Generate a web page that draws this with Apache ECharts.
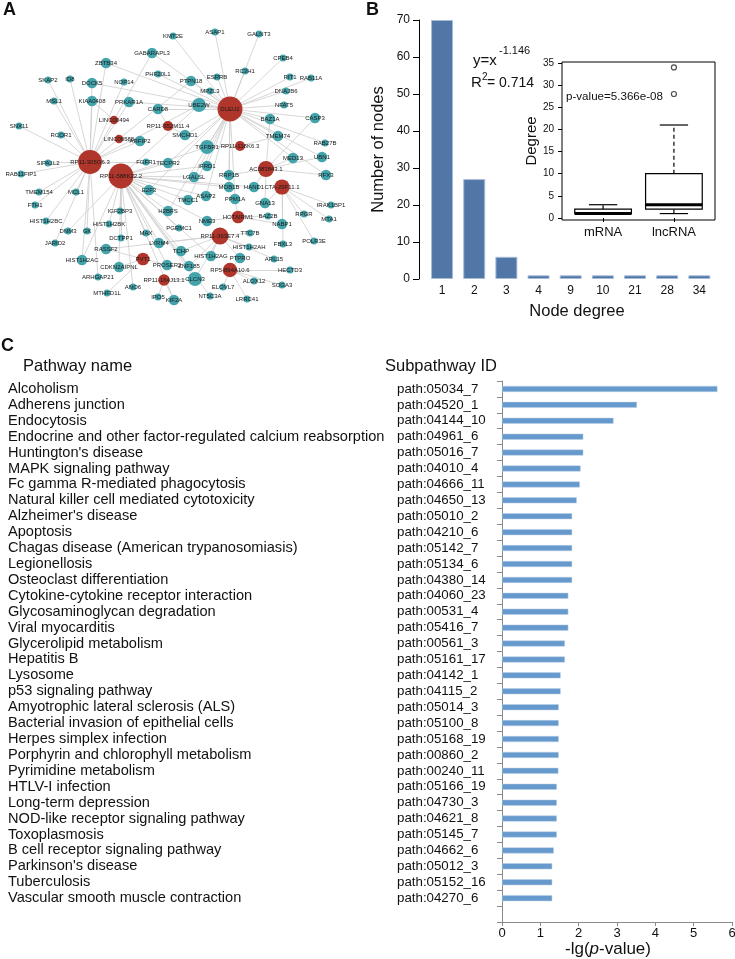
<!DOCTYPE html>
<html><head><meta charset="utf-8">
<script src="https://cdn.jsdelivr.net/npm/echarts@6/dist/echarts.min.js"></script>
<style>html,body{margin:0;padding:0;background:#fff}#c{width:735px;height:959px}</style>
</head><body><div id="c"></div>
<script>
// ===== Panel A: lncRNA–mRNA network (layout coordinates) =====
const lncRNAs = [
  ['DLEU2',230,109],['RP11-305O6.3',90,162],['RP11-588K22.2',121,176],['AC083843.1',266,169],
  ['RP11-363E7.4',220,236],['CTA-29F11.1',282,187],['HOTAIRM1',238,217],['RP5-894A10.6',230,270],
  ['PVT1',143,259],['RP11-164J13.1',164,280],['RP11-118K6.3',240,146],['RP11-552M11.4',168,126],
  ['LINC00494',114,120],['LINC00588',119,139]
];
const mRNAs = [
  ['KMT2E',173,36],['ASAP1',215,32],['GALNT3',259,34],['GABARAPL3',152,53],['CPEB4',283,58],
  ['ZBTB34',106,63],['RC3H1',245,71],['RIT1',290,77],['RAB11A',311,78],['SKAP2',48,80],
  ['ID8',70,79],['DOCK5',92,83],['NOP14',124,82],['PHF20L1',158,74],['PTPN18',191,81],
  ['ESRRB',217,77],['MPZL3',210,91],['DNAJB6',286,91],['MSL1',54,101],['KIAA0408',92,101],
  ['PRKAR1A',129,102],['UBE2W',199,105],['NFAT5',284,105],['CARD8',158,109],['CASP3',315,118],
  ['BAZ1A',270,119],['SNX11',19,126],['RCOR1',61,135],['TMEM74',278,136],['RAB27B',325,143],
  ['ARFIP2',140,141],['SMCHD1',185,135],['TGFBR1',207,147],['MED13',293,158],['UBN1',322,157],
  ['SIPA1L2',48,163],['FGFR1',146,162],['TECPR2',168,163],['IFRD1',207,166],['RFX3',326,175],
  ['RAB11FIP1',21,174],['LGALSL',194,177],['RRP1B',229,175],['TMEM154',39,192],['MCL1',76,192],
  ['E2F3',149,190],['MOB1B',229,187],['HAND1',254,187],['TMCC1',188,200],['ASAP2',206,196],
  ['PPM1A',235,199],['GNA13',265,203],['IRAK1BP1',331,205],['FTH1',35,205],['IGF2BP3',120,211],
  ['H2BFS',168,211],['BAZ2B',268,216],['RPGR',304,214],['MTA1',329,219],['HIST1H2BC',46,221],
  ['HIST1H2BK',109,224],['NME3',207,221],['NABP1',282,224],['DNM3',68,231],['GK',87,231],
  ['MAX',146,233],['PGRMC1',179,228],['TTC7B',250,233],['JARID2',55,243],['DCTPP1',121,238],
  ['LYRM4',159,243],['FBXL3',283,244],['POLR3E',314,241],['HIST1H2AH',249,247],['RASSF2',106,249],
  ['TCHP',181,251],['HIST1H2AC',82,260],['HIST1H2AG',211,256],['PTPRO',240,258],['ARL15',274,259],
  ['PROSER2',167,265],['ZNF185',189,266],['CDKN2AIPNL',119,267],['HECTD3',290,270],['ARHGAP21',98,277],
  ['CLCN3',195,279],['ALOX12',254,281],['SOGA3',282,285],['ANO6',133,287],['ELOVL7',223,287],
  ['MTHFD1L',107,293],['IPO5',158,297],['KIF2A',174,300],['NT5C3A',210,296],['LRRC41',247,299]
];
const interactions = {
  'DLEU2': ['KMT2E','ASAP1','GALNT3','CPEB4','RC3H1','RIT1','RAB11A','ESRRB','MPZL3','PTPN18','DNAJB6','NFAT5','UBE2W','CASP3','BAZ1A','TMEM74','RAB27B','UBN1','MED13','RFX3','GABARAPL3','DOCK5','PHF20L1','PRKAR1A','CARD8','SMCHD1','TGFBR1','IFRD1','LGALSL','RRP1B','MOB1B','TMCC1','ASAP2','PPM1A','ZBTB34','TECPR2','E2F3','H2BFS'],
  'RP11-305O6.3': ['SKAP2','ID8','DOCK5','NOP14','MSL1','KIAA0408','ZBTB34','GABARAPL3','SNX11','RCOR1','SIPA1L2','RAB11FIP1','TMEM154','MCL1','FTH1','HIST1H2BC','GK','JARID2','HIST1H2AC','UBE2W','FGFR1','ARFIP2','ARHGAP21','PTPN18','PRKAR1A'],
  'RP11-588K22.2': ['E2F3','IGF2BP3','H2BFS','TMCC1','ASAP2','PGRMC1','MAX','DCTPP1','LYRM4','TCHP','PROSER2','ZNF185','CDKN2AIPNL','ANO6','KIF2A','CLCN3','DNM3','HIST1H2BK','TECPR2','IFRD1','LGALSL','TGFBR1','MOB1B','NME3','HIST1H2AG','NT5C3A','HAND1','UBE2W','HIST1H2AC'],
  'RP11-363E7.4': ['TTC7B','HIST1H2AH','PTPRO','ARL15','RASSF2','TCHP','HIST1H2AG','ZNF185','CLCN3','LYRM4'],
  'AC083843.1': ['CASP3','MED13','RFX3','UBN1','BAZ1A','RRP1B','HAND1','GNA13'],
  'CTA-29F11.1': ['IRAK1BP1','RPGR','MTA1','POLR3E','FBXL3','GNA13','NABP1'],
  'HOTAIRM1': ['BAZ2B','NABP1','PPM1A','NME3'],
  'RP5-894A10.6': ['HECTD3','ALOX12','SOGA3','ELOVL7','LRRC41','PTPRO'],
  'PVT1': ['MTHFD1L','PROSER2','CDKN2AIPNL','RASSF2'],
  'RP11-164J13.1': ['IPO5','KIF2A','CLCN3'],
  'RP11-118K6.3': ['TMEM74','TGFBR1'],
  'RP11-552M11.4': ['SMCHD1','CARD8'],
  'LINC00494': ['KIAA0408'],
  'LINC00588': ['ARFIP2']
};

// ===== Panel B: degree distribution + inset boxplot =====
const degreeCategories = ['1','2','3','4','9','10','21','28','34'];
const nodeCounts = [70,27,6,1,1,1,1,1,1];
const boxCategories = ['mRNA','lncRNA'];
const boxStats = [[1,1,1,2,3],[1,2,3,10,21]]; // min, Q1, median, Q3, max
const boxOutliers = [[2,28],[2,34]];
const degreeTicks = [0,5,10,15,20,25,30,35];

// ===== Panel C: subpathway enrichment =====
const pathwayNames = ['Alcoholism','Adherens junction','Endocytosis','Endocrine and other factor-regulated calcium reabsorption',"Huntington's disease",'MAPK signaling pathway','Fc gamma R-mediated phagocytosis','Natural killer cell mediated cytotoxicity',"Alzheimer's disease",'Apoptosis','Chagas disease (American trypanosomiasis)','Legionellosis','Osteoclast differentiation','Cytokine-cytokine receptor interaction','Glycosaminoglycan degradation','Viral myocarditis','Glycerolipid metabolism','Hepatitis B','Lysosome','p53 signaling pathway','Amyotrophic lateral sclerosis (ALS)','Bacterial invasion of epithelial cells','Herpes simplex infection','Porphyrin and chlorophyll metabolism','Pyrimidine metabolism','HTLV-I infection','Long-term depression','NOD-like receptor signaling pathway','Toxoplasmosis','B cell receptor signaling pathway',"Parkinson's disease",'Tuberculosis','Vascular smooth muscle contraction'];
const subpathwayIds = ['path:05034_7','path:04520_1','path:04144_10','path:04961_6','path:05016_7','path:04010_4','path:04666_11','path:04650_13','path:05010_2','path:04210_6','path:05142_7','path:05134_6','path:04380_14','path:04060_23','path:00531_4','path:05416_7','path:00561_3','path:05161_17','path:04142_1','path:04115_2','path:05014_3','path:05100_8','path:05168_19','path:00860_2','path:00240_11','path:05166_19','path:04730_3','path:04621_8','path:05145_7','path:04662_6','path:05012_3','path:05152_16','path:04270_6'];
const negLogP = [5.62,3.52,2.91,2.12,2.12,2.05,2.03,1.95,1.83,1.83,1.83,1.83,1.83,1.73,1.73,1.73,1.64,1.64,1.53,1.53,1.48,1.48,1.48,1.48,1.47,1.43,1.43,1.43,1.43,1.35,1.31,1.31,1.31];

// ===== build =====
const FONT = '"Liberation Sans", Arial, Helvetica, sans-serif';
const TEAL = '#43a4ac', RED = '#b0352b';
const degree = {};
Object.keys(interactions).forEach(l => {
  degree[l] = (degree[l]||0) + interactions[l].length;
  interactions[l].forEach(m => { degree[m] = (degree[m]||0) + 1; });
});
const graphNodes = [];
mRNAs.forEach(([n,x,y]) => graphNodes.push({name:n, value:[x,y],
  symbolSize: Math.min(15, 3.5 + 3.5*(degree[n]||1)), itemStyle:{color:TEAL}}));
lncRNAs.forEach(([n,x,y]) => graphNodes.push({name:n, value:[x,y],
  symbolSize: Math.min(25, 3 + 5.4*Math.pow(degree[n]||1,0.42)), itemStyle:{color:RED}}));
const graphLinks = [];
Object.keys(interactions).forEach(l => interactions[l].forEach(m => graphLinks.push({source:l, target:m})));

const catC = subpathwayIds.map((_,i)=>String(i)).concat(['pad']);

const chart = echarts.init(document.getElementById('c'), null, {renderer:'canvas'});

function txt(x, y, text, size, extra) {
  return {type:'text', x:x, y:y, silent:true, z:100,
    style:Object.assign({text:text, fontSize:size, fontFamily:FONT, fill:'#111', align:'left', verticalAlign:'middle'}, extra||{})};
}

const G = {containLabel:false, outerBoundsMode:'none'};
const option = {
  animation:false,
  backgroundColor:'#fff',
  textStyle:{fontFamily:FONT},
  grid:[
    Object.assign({left:0, top:0, width:380, height:330}, G),
    Object.assign({left:426, top:20, width:289.4, height:259}, G),
    Object.assign({left:562, top:62, width:153, height:158, show:true, borderColor:'#000', borderWidth:1, backgroundColor:'rgba(0,0,0,0)'}, G),
    Object.assign({left:502, top:381, width:230, height:541}, G)
  ],
  xAxis:[
    {gridIndex:0, type:'value', min:0, max:380, show:false},
    {gridIndex:1, type:'category', data:degreeCategories, axisLine:{show:false}, axisTick:{show:false},
      axisLabel:{fontSize:12, color:'#111', margin:6, fontFamily:FONT}},
    {gridIndex:2, type:'value', min:0.42, max:2.58, splitLine:{show:false}, axisLine:{show:false},
      axisTick:{show:true, customValues:[1,2], length:4, lineStyle:{color:'#000'}},
      axisLabel:{customValues:[1,2], formatter:v=>boxCategories[Math.round(v)-1]||'', fontSize:13, color:'#111', margin:6, fontFamily:FONT}},
    {gridIndex:3, type:'value', min:0, max:6, interval:1, splitLine:{show:false},
      axisLine:{show:true, lineStyle:{color:'#8a8a8a'}}, axisTick:{show:true, length:4, lineStyle:{color:'#8a8a8a'}},
      axisLabel:{fontSize:13, color:'#111', margin:5, fontFamily:FONT}}
  ],
  yAxis:[
    {gridIndex:0, type:'value', min:0, max:330, inverse:true, show:false},
    {gridIndex:1, type:'value', position:'left', min:0, max:70, interval:10, offset:7, splitLine:{show:false},
      axisLine:{show:true, lineStyle:{color:'#000'}}, axisTick:{show:true, length:6, lineStyle:{color:'#000'}},
      axisLabel:{fontSize:12, color:'#111', margin:9, fontFamily:FONT},
      name:'Number of nodes', nameLocation:'middle', nameGap:32, nameRotate:90,
      nameTextStyle:{fontSize:16.5, color:'#111', fontFamily:FONT}},
    {gridIndex:2, type:'value', position:'left', min:-0.45, max:35.23, splitLine:{show:false}, axisLine:{show:false},
      axisTick:{show:true, customValues:degreeTicks, length:4, lineStyle:{color:'#000'}},
      axisLabel:{customValues:degreeTicks, fontSize:10, color:'#111', margin:8, fontFamily:FONT},
      name:'Degree', nameLocation:'middle', nameGap:22, nameRotate:90,
      nameTextStyle:{fontSize:15, color:'#111', fontFamily:FONT}},
    {gridIndex:3, type:'category', position:'left', data:catC, inverse:true,
      axisLine:{show:true, lineStyle:{color:'#8a8a8a'}}, axisTick:{show:true, length:5, lineStyle:{color:'#8a8a8a'}},
      axisLabel:{interval:0, align:'left', margin:105, fontSize:13.3, color:'#111', fontFamily:FONT,
        formatter:v=>subpathwayIds[+v]||''}},
    {gridIndex:3, type:'category', position:'left', offset:0, data:catC, inverse:true,
      axisLine:{show:false}, axisTick:{show:false},
      axisLabel:{interval:0, align:'left', margin:494, fontSize:14.6, color:'#111', fontFamily:FONT,
        formatter:v=>pathwayNames[+v]||''}}
  ],
  series:[
    {type:'graph', coordinateSystem:'cartesian2d', xAxisIndex:0, yAxisIndex:0, layout:'none',
      data:graphNodes, links:graphLinks, silent:true, z:2,
      lineStyle:{color:'#cdcdcd', width:0.8, opacity:1, curveness:0},
      label:{show:true, position:'inside', fontSize:6, color:'#1a1a1a', fontFamily:FONT},
      emphasis:{disabled:true}},
    {type:'bar', xAxisIndex:1, yAxisIndex:1, data:nodeCounts, barWidth:22, silent:true,
      itemStyle:{color:'#5077a7', borderColor:'#a9bcd7', borderWidth:1}},
    {type:'custom', xAxisIndex:2, yAxisIndex:2, silent:true, z:5,
      data:boxStats.map((s,i)=>[i+1].concat(s)),
      encode:{x:0, y:[1,2,3,4,5]},
      renderItem:function(params, api){
        const x = api.value(0), mn = api.value(1), q1 = api.value(2), md = api.value(3), q3 = api.value(4), mx = api.value(5);
        const hw = 0.4, cw = 0.2;
        const c = (a,b)=>api.coord([a,b]);
        const tl = c(x-hw, q3), br = c(x+hw, q1);
        const line = (p1,p2,w,dash)=>({type:'line', shape:{x1:p1[0],y1:p1[1],x2:p2[0],y2:p2[1]},
          style:{stroke:'#000', lineWidth:w, lineDash:dash||null}});
        return {type:'group', children:[
          line(c(x,q3), c(x,mx), 1.2, [4,3]),
          line(c(x,q1), c(x,mn), 1.2, [4,3]),
          line(c(x-cw,mx), c(x+cw,mx), 1.2),
          line(c(x-cw,mn), c(x+cw,mn), 1.2),
          {type:'rect', shape:{x:tl[0], y:tl[1], width:br[0]-tl[0], height:br[1]-tl[1]},
            style:{fill:'#fff', stroke:'#000', lineWidth:1.2}},
          line(c(x-hw,md), c(x+hw,md), 3)
        ]};
      }},
    {type:'scatter', xAxisIndex:2, yAxisIndex:2, data:boxOutliers, symbol:'circle', symbolSize:5, silent:true, z:6,
      itemStyle:{color:'#fff', borderColor:'#222', borderWidth:1.2}},
    {type:'bar', xAxisIndex:3, yAxisIndex:3, data:negLogP, barWidth:6, silent:true,
      itemStyle:{color:'#6699cc', borderColor:'#b9cfe8', borderWidth:0.5}}
  ],
  graphic:[
    txt(3, 10, 'A', 18, {fontWeight:'bold'}),
    txt(366, 10, 'B', 18, {fontWeight:'bold'}),
    txt(1, 346, 'C', 18, {fontWeight:'bold'}),
    txt(473, 61, 'y=x', 15),
    txt(499, 51, '-1.146', 11),
    txt(471, 83, 'R', 15),
    txt(482, 77, '2', 10),
    txt(487, 83, '= 0.714', 14),
    txt(566, 97, 'p-value=5.366e-08', 11.6),
    txt(577, 311, 'Node degree', 16.5, {align:'center'}),
    txt(23, 366, 'Pathway name', 16.5),
    txt(385, 366, 'Subpathway ID', 16.5),
    txt(608, 949, '-lg({i|p}-value)', 17, {align:'center', rich:{i:{fontStyle:'italic', fontSize:17, fontFamily:FONT, fill:'#111'}}})
  ]
};
chart.setOption(option);
</script></body></html>
